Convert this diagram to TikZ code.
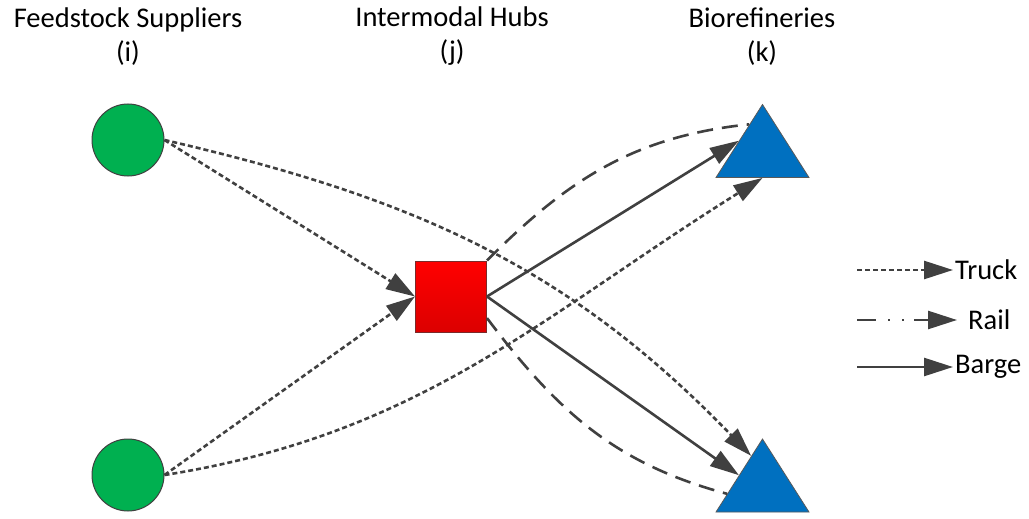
\documentclass[tikz,border=0pt]{standalone}
\usepackage{fontspec}
\setmainfont{Carlito}
\usetikzlibrary{shapes.geometric,arrows.meta,positioning,calc}
\definecolor{lcol}{HTML}{404040}
\definecolor{sgreen}{HTML}{00B050}
\definecolor{hred}{HTML}{DC0000}
\definecolor{hborder}{HTML}{7A2A2A}
\definecolor{rblue}{HTML}{0070C0}
\tikzstyle{snode} = [circle, draw=lcol, line width=1pt, fill=sgreen, minimum size=72pt, inner sep=0pt]
\tikzstyle{hnode} = [rectangle, draw=hborder, line width=1pt, top color=red, bottom color=hred, minimum size=71pt, inner sep=0pt]
\tikzstyle{rnode} = [isosceles triangle, shape border rotate=90, isosceles triangle stretches, minimum width=93pt, minimum height=73pt, draw=gray!70!black, line width=0.8pt, fill=rblue, inner sep=0pt]
\tikzstyle{hdr} = [align=center, font=\fontsize{28.5}{34}\selectfont]
\tikzstyle{lgd} = [font=\fontsize{28.5}{34}\selectfont, inner sep=2pt]
\tikzstyle{link} = [draw=lcol, line width=2.6pt]
\tikzstyle{arrowed} = [-{Triangle[length=29pt,width=18pt]}]
\tikzstyle{truck} = [link, arrowed, dash pattern=on 5pt off 3pt]
\tikzstyle{rail} = [link, dash pattern=on 16pt off 9pt]
\tikzstyle{barge} = [link, arrowed]

\begin{document}
\begin{tikzpicture}[x=1pt, y=1pt]
			\useasboundingbox (0,0) rectangle (1029,-519);
			\node [hdr] (hs) at (128,-36.5) {Feedstock Suppliers\\(i)};
			\node [hdr] (hh) at (452,-36.5) {Intermodal Hubs\\(j)};
			\node [hdr] (hr) at (762,-36.5) {Biorefineries\\(k)};
			
			\node [snode] (s1) at (128,-140) {};
			\node [snode] (s2) at (128,-475) {};
			\node [hnode] (h) at (451,-296.5) {};
			\node [rnode] (r1) at (762.5,-152) {};
			\node [rnode] (r2) at (762.5,-486.5) {};
			
			\path [truck] (s1.east) -- (h.west);
			\path [truck] (s2.east) -- (h.west);
			\path [truck] (s1.east) to[out=-13, in=134] ($(r2.apex)!0.24!(r2.left corner)$);
			\path [truck] (s2.east) to[out=9, in=-148] (r1.lower side);
			\path [barge] (h.east) -- (r1.left side);
			\path [barge] (h.east) -- (r2.left side);
			\path [rail] (h.north east) to[out=45, in=186] ($(r1.apex)!0.28!(r1.left corner)$);
			\path [rail] ($(h.east)!0.6!(h.south east)$) to[out=-53, in=165] ($(r2.apex)!0.75!(r2.left corner)$);
			
			\coordinate (ltruck) at (857,-270);
			\coordinate (lrail) at (857,-320);
			\coordinate (lbarge) at (857,-367);
			\node [lgd, anchor=west] (truck) at (953,-270) {Truck};
			\node [lgd, anchor=west] (rail) at (966,-320) {Rail};
			\node [lgd, anchor=west] (barge) at (953,-367) {Barge};
			\path [truck] (ltruck) -- (truck.west);
			\path [link, arrowed, dash pattern=on 19pt off 12pt on 2pt off 12pt on 2pt off 10pt, shorten >=9pt] (lrail) -- (rail.west);
			\path [barge] (lbarge) -- (barge.west);
		\end{tikzpicture}
\end{document}
